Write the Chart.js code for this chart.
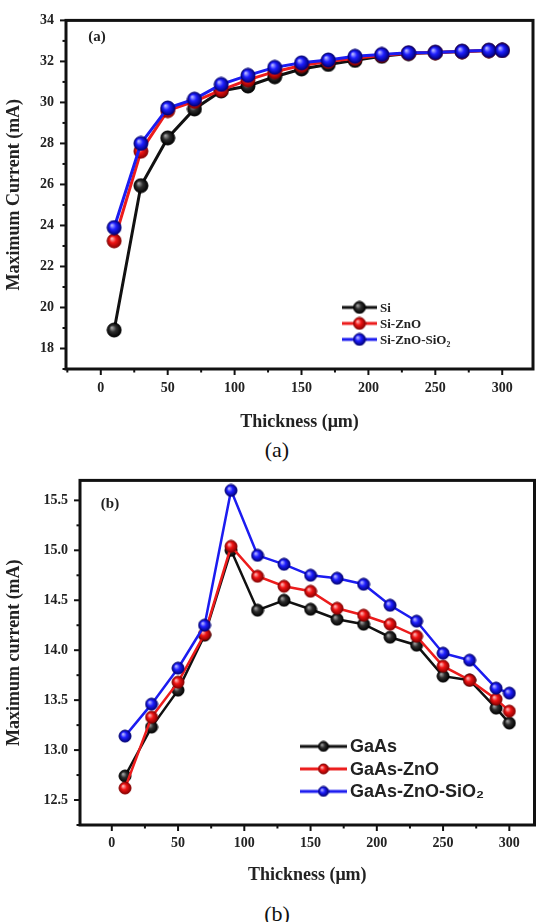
<!DOCTYPE html>
<html>
<head>
<meta charset="utf-8">
<script src="https://cdn.jsdelivr.net/npm/chart.js@4.4.1/dist/chart.umd.min.js"></script>
<style>
  html, body { margin: 0; padding: 0; background: #fff; }
  body { width: 543px; height: 922px; position: relative; overflow: hidden; }
  canvas { position: absolute; left: 0; }
  #chartA { top: 0; }
  #chartB { top: 460px; }
  .caption { position: absolute; left: 0; width: 554px; text-align: center;
             font: 22px 'Liberation Serif', 'Times New Roman', serif; color: #111; line-height: 26px; }
</style>
</head>
<body>
<canvas id="chartA" width="543" height="437"></canvas>
<div class="caption" style="top:437px">(a)</div>
<canvas id="chartB" width="543" height="430"></canvas>
<div class="caption" style="top:901px">(b)</div>
<script>
// ---- data (a) ----
const thicknessA = [10, 30, 50, 70, 90, 110, 130, 150, 170, 190, 210, 230, 250, 270, 290, 300];
const siCurrent = [18.9, 25.94, 28.27, 29.68, 30.56, 30.8, 31.25, 31.63, 31.85, 32.05, 32.25, 32.38, 32.43, 32.48, 32.53, 32.54];
const siZnoCurrent = [23.25, 27.62, 29.6, 30.05, 30.6, 31.1, 31.5, 31.8, 32.0, 32.15, 32.3, 32.4, 32.43, 32.48, 32.53, 32.54];
const siZnoSio2Current = [23.9, 28.0, 29.73, 30.16, 30.88, 31.32, 31.71, 31.93, 32.07, 32.25, 32.34, 32.42, 32.44, 32.49, 32.54, 32.54];
const xTickLabelsA = [0, 50, 100, 150, 200, 250, 300];
const yTickLabelsA = [18, 20, 22, 24, 26, 28, 30, 32, 34];

// ---- data (b) ----
const thicknessB = [10, 30, 50, 70, 90, 110, 130, 150, 170, 190, 210, 230, 250, 270, 290, 300];
const gaasCurrent = [12.74, 13.23, 13.6, 14.15, 15.0, 14.4, 14.5, 14.41, 14.31, 14.26, 14.13, 14.05, 13.74, 13.7, 13.42, 13.27];
const gaasZnoCurrent = [12.62, 13.33, 13.68, 14.16, 15.04, 14.74, 14.64, 14.59, 14.42, 14.35, 14.26, 14.14, 13.84, 13.7, 13.51, 13.39];
const gaasZnoSio2Current = [13.14, 13.46, 13.82, 14.25, 15.6, 14.95, 14.86, 14.75, 14.72, 14.66, 14.45, 14.29, 13.97, 13.9, 13.62, 13.57];
const xTickLabelsB = [0, 50, 100, 150, 200, 250, 300];
const yTickLabelsB = [12.5, 13, 13.5, 14, 14.5, 15, 15.5];

const serif = "'Liberation Serif', 'Times New Roman', serif";
const sans = "'Liberation Sans', Arial, sans-serif";
Chart.defaults.font.family = serif;
Chart.defaults.color = '#222';

const palette = {
  black: { line: '#111111', ball: ['#a8a8a8', '#2e2e2e', '#000000'] },
  red:   { line: '#ec1c1c', ball: ['#ffc0c0', '#f01414', '#8a0000'] },
  blue:  { line: '#1c1cf0', ball: ['#c0c0ff', '#1e1eff', '#00007a'] }
};

function makeBall(c, r) {
  const cv = document.createElement('canvas');
  const s = Math.ceil(2 * r + 2);
  cv.width = s; cv.height = s;
  const g = cv.getContext('2d');
  const cx = s / 2, cy = s / 2;
  const grad = g.createRadialGradient(cx - r * 0.35, cy - r * 0.35, r * 0.05, cx, cy, r);
  grad.addColorStop(0, c[0]);
  grad.addColorStop(0.45, c[1]);
  grad.addColorStop(1, c[2]);
  g.fillStyle = grad;
  g.beginPath(); g.arc(cx, cy, r, 0, Math.PI * 2); g.fill();
  g.lineWidth = 1; g.strokeStyle = c[2]; g.stroke();
  return cv;
}

function makeLegendIcon(lineColor, ball, w, lw) {
  const cv = document.createElement('canvas');
  cv.width = w; cv.height = ball.height;
  const g = cv.getContext('2d');
  g.strokeStyle = lineColor; g.lineWidth = lw;
  g.beginPath(); g.moveTo(0, cv.height / 2); g.lineTo(w, cv.height / 2); g.stroke();
  g.drawImage(ball, (w - ball.width) / 2, 0);
  return cv;
}

// ticks, frame, panel tag and in-plot legend
function makeDeco(s) {
  return {
    id: 'deco',
    afterDraw(chart) {
      const ctx = chart.ctx;
      const a = chart.chartArea;
      const xs = chart.scales.x, ys = chart.scales.y;
      ctx.save();
      ctx.strokeStyle = '#111';
      ctx.lineWidth = 2;
      xs.ticks.forEach(t => {
        const px = xs.getPixelForValue(t.value);
        const len = t.label !== '' ? 6 : 3.5;
        ctx.beginPath(); ctx.moveTo(px, a.bottom); ctx.lineTo(px, a.bottom + len); ctx.stroke();
      });
      ys.ticks.forEach(t => {
        const py = ys.getPixelForValue(t.value);
        const len = t.label !== '' ? 6 : 3.5;
        ctx.beginPath(); ctx.moveTo(a.left, py); ctx.lineTo(a.left - len, py); ctx.stroke();
      });
      ctx.lineWidth = 3;
      ctx.strokeRect(a.left, a.top, a.right - a.left, a.bottom - a.top);

      ctx.fillStyle = '#222';
      ctx.font = 'bold 15px ' + serif;
      ctx.textAlign = 'center';
      ctx.textBaseline = 'middle';
      ctx.fillText(s.tag, a.left + s.tagDx, a.top + s.tagDy);

      ctx.textAlign = 'left';
      ctx.font = s.legendFont;
      chart.data.datasets.forEach((ds, i) => {
        const icon = s.icons[i];
        const x = a.left + s.legendDx;
        const y = a.top + s.legendDy + i * s.legendGap;
        ctx.drawImage(icon, x, y - icon.height / 2);
        ctx.fillText(ds.label, x + icon.width + 3, y + 1);
      });
      ctx.restore();
    }
  };
}

function buildChart(id, cfg) {
  const balls = cfg.series.map(sr => makeBall(palette[sr.color].ball, cfg.ballR));
  const icons = cfg.series.map(sr =>
    makeLegendIcon(palette[sr.color].line, makeBall(palette[sr.color].ball, cfg.legendBallR), cfg.iconW, 3));
  const datasets = cfg.series.map((sr, i) => ({
    label: sr.label,
    data: cfg.xs.map((x, k) => ({ x: x, y: sr.values[k] })),
    borderColor: palette[sr.color].line,
    borderWidth: cfg.lineW,
    pointStyle: balls[i],
    pointRadius: cfg.ballR,
    tension: 0,
    order: cfg.series.length - i
  }));
  return new Chart(document.getElementById(id), {
    type: 'line',
    data: { datasets: datasets },
    options: {
      responsive: false,
      animation: false,
      devicePixelRatio: 1,
      layout: { padding: cfg.padding },
      plugins: { legend: { display: false }, tooltip: { enabled: false } },
      scales: {
        x: {
          type: 'linear',
          min: cfg.xMin, max: cfg.xMax,
          grid: { display: false, drawTicks: false },
          border: { display: false },
          ticks: {
            stepSize: 25, includeBounds: false, autoSkip: false, maxRotation: 0,
            padding: cfg.xLabelPad,
            font: { size: 14, weight: 'bold' },
            callback: v => cfg.xLabels.includes(v) ? String(v) : ''
          },
          title: { display: true, text: 'Thickness (\u03bcm)', color: '#222',
                   font: { size: 18, weight: 'bold' }, padding: { top: 4, bottom: 4 } },
          afterFit: sc => { sc.height = cfg.xAxisH; }
        },
        y: {
          min: cfg.yMin, max: cfg.yMax,
          grid: { display: false, drawTicks: false },
          border: { display: false },
          ticks: {
            stepSize: cfg.yStep, includeBounds: false, autoSkip: false,
            padding: 12,
            font: { size: 14, weight: 'bold' },
            callback: v => cfg.yLabels.includes(v) ? cfg.yFmt(v) : ''
          },
          title: { display: true, text: cfg.yTitle, color: '#222',
                   font: { size: 18, weight: 'bold' }, padding: { top: 4, bottom: 4 } },
          afterFit: sc => { sc.width = cfg.yAxisW; }
        }
      }
    },
    plugins: [makeDeco({
      tag: cfg.tag, tagDx: cfg.tagDx, tagDy: cfg.tagDy, icons: icons,
      legendDx: cfg.legendDx, legendDy: cfg.legendDy, legendGap: cfg.legendGap,
      legendFont: cfg.legendFont
    })]
  });
}

buildChart('chartA', {
  xs: thicknessA,
  series: [
    { label: 'Si', values: siCurrent, color: 'black' },
    { label: 'Si-ZnO', values: siZnoCurrent, color: 'red' },
    { label: 'Si-ZnO-SiO\u2082', values: siZnoSio2Current, color: 'blue' }
  ],
  ballR: 7, legendBallR: 6, iconW: 35, lineW: 3,
  padding: { top: 14, right: 5, left: 0, bottom: 0 },
  xMin: -26, xMax: 323, xLabels: xTickLabelsA, xLabelPad: 11, xAxisH: 68,
  yMin: 17, yMax: 34, yStep: 1, yLabels: yTickLabelsA, yFmt: v => String(v), yAxisW: 66,
  yTitle: 'Maximum Current (mA)',
  tag: '(a)', tagDx: 31, tagDy: 17,
  legendDx: 276, legendDy: 287, legendGap: 16, legendFont: 'bold 13px ' + serif
});

buildChart('chartB', {
  xs: thicknessB,
  series: [
    { label: 'GaAs', values: gaasCurrent, color: 'black' },
    { label: 'GaAs-ZnO', values: gaasZnoCurrent, color: 'red' },
    { label: 'GaAs-ZnO-SiO\u2082', values: gaasZnoSio2Current, color: 'blue' }
  ],
  ballR: 6, legendBallR: 5, iconW: 47, lineW: 2.5,
  padding: { top: 13, right: 2, left: 0, bottom: 0 },
  xMin: -24, xMax: 319, xLabels: xTickLabelsB, xLabelPad: 10, xAxisH: 65,
  yMin: 12.25, yMax: 15.7, yStep: 0.25, yLabels: yTickLabelsB, yFmt: v => v.toFixed(1), yAxisW: 80,
  yTitle: 'Maximum current (mA)',
  tag: '(b)', tagDx: 30, tagDy: 24,
  legendDx: 220, legendDy: 266, legendGap: 22.5, legendFont: 'bold 18px ' + sans
});
</script>
</body>
</html>
